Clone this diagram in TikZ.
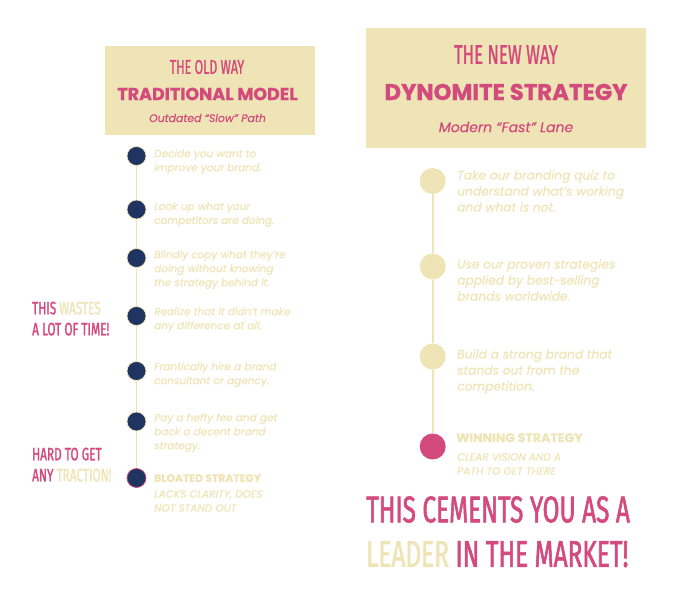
\documentclass[tikz,border=0pt]{standalone}
\usepackage{fontspec}
\setmainfont[ItalicFeatures={FakeBold=0.45},BoldFeatures={FakeBold=0.9}]{Poppins}
\newfontfamily\bebas[FakeStretch=0.62,FakeBold=1.1]{Fira Sans}
\newfontfamily\bebaswide[FakeStretch=0.655,FakeBold=1.5]{Fira Sans}
\usepackage{tikz}
\usetikzlibrary{positioning}
\definecolor{cream}{HTML}{EFE4B6}
\definecolor{rose}{HTML}{D34B7C}
\definecolor{navy}{HTML}{1F3460}
\tikzset{
banner/.style={fill=cream,inner sep=0,anchor=north west},
old dot/.style={circle,fill=navy,draw=cream,line width=.7pt,minimum size=19pt,inner sep=0},
new dot/.style={circle,fill=cream,minimum size=26pt,inner sep=0},
old text/.style={text=cream,anchor=north west,inner sep=0,align=left,font=\fontsize{10.5}{14}\selectfont\itshape},
new text/.style={text=cream,anchor=north west,inner sep=0,align=left,font=\fontsize{12.3}{16}\selectfont\itshape},
side note/.style={text=cream,anchor=north west,inner sep=0,align=left,font=\fontsize{18}{21}\selectfont\bebaswide},
old link/.style={draw=cream,line width=1.3pt},
new link/.style={draw=cream,line width=2pt},
}

\begin{document}
\begin{tikzpicture}[x=1pt,y=-1pt]
\useasboundingbox (0,0) rectangle (700,601);

% headers
\node[banner,minimum width=210pt,minimum height=89pt] (oldbox) at (105,46) {};
\node[banner,minimum width=280pt,minimum height=120pt] (newbox) at (366,28) {};
\node[text=rose,font=\fontsize{20}{24}\selectfont\bebas] (oldway) at (207,67) {THE OLD WAY};
\node[text=rose,font=\fontsize{17.5}{20}\selectfont\bfseries] (oldname) at (207.5,94) {TRADITIONAL MODEL};
\node[text=rose,font=\fontsize{10.9}{14}\selectfont\itshape] (oldsub) at (207.5,118) {Outdated “Slow” Path};
\node[text=rose,font=\fontsize{27}{30}\selectfont\bebas] (newway) at (506,54.5) {THE NEW WAY};
\node[text=rose,font=\fontsize{22.8}{28}\selectfont\bfseries] (newname) at (506,92) {DYNOMITE STRATEGY};
\node[text=rose,font=\fontsize{14}{18}\selectfont\itshape] (newsub) at (506,127) {Modern “Fast” Lane};

% old path
\node[old dot] (o1) at (136.5,156) {};
\node[old dot] (o2) at (136.5,209.5) {};
\node[old dot] (o3) at (136.5,258) {};
\node[old dot] (o4) at (136.5,316) {};
\node[old dot] (o5) at (136.5,371) {};
\node[old dot] (o6) at (136.5,421.5) {};
\node[old dot,draw=rose] (o7) at (136.5,478) {};
\path[old link] (o1) -- (o2) (o2) -- (o3) (o3) -- (o4) (o4) -- (o5) (o5) -- (o6) (o6) -- (o7);

\node[old text] (t1) at (154,149) {Decide you want to\\improve your brand.};
\node[old text] (t2) at (154,202) {Look up what your\\competitors are doing.};
\node[old text] (t3) at (154,250) {Blindly copy what they’re\\doing without knowing\\the strategy behind it.};
\node[old text] (t4) at (154,307) {Realize that it didn’t make\\any difference at all.};
\node[old text] (t5) at (154,362) {Frantically hire  a brand\\consultant or agency.};
\node[old text] (t6) at (154,413) {Pay a hefty fee and get\\back a decent brand\\strategy.};
\node[old text,font=\fontsize{10.8}{14}\selectfont\bfseries] (t7) at (154,474) {BLOATED STRATEGY};
\node[old text] (t8) at (154,490) {LACKS CLARITY, DOES\\NOT STAND OUT};

\node[side note] (waste) at (32,301.5) {{\color{rose}THIS} WASTES\\{\color{rose}A LOT OF TIME!}};
\node[side note] (hard) at (32,447.5) {{\color{rose}HARD TO GET}\\{\color{rose}ANY} TRACTION!};

% new path
\node[new dot] (n1) at (432.7,181) {};
\node[new dot] (n2) at (432.7,266.5) {};
\node[new dot] (n3) at (432.7,356.5) {};
\node[new dot,fill=rose] (n4) at (432.7,446.5) {};
\path[new link] (n1) -- (n2) (n2) -- (n3) (n3) -- (n4);

\node[new text] (s1) at (457,170) {Take our branding quiz to\\understand what’s working\\and what is not.};
\node[new text] (s2) at (457,259) {Use our proven strategies\\applied by best-selling\\brands worldwide.};
\node[new text] (s3) at (457,349) {Build a strong brand that\\stands out from the\\competition.};
\node[new text,font=\fontsize{12.6}{16}\selectfont\bfseries] (s4) at (456,433) {WINNING STRATEGY};
\node[old text] (s5) at (457,453) {CLEAR VISION AND A\\PATH TO GET THERE};

\node[side note,font=\fontsize{37.3}{44.5}\selectfont\bebaswide] (closing) at (366,496) {{\color{rose}THIS CEMENTS YOU AS A}\\LEADER {\color{rose}IN THE MARKET!}};
\end{tikzpicture}
\end{document}
